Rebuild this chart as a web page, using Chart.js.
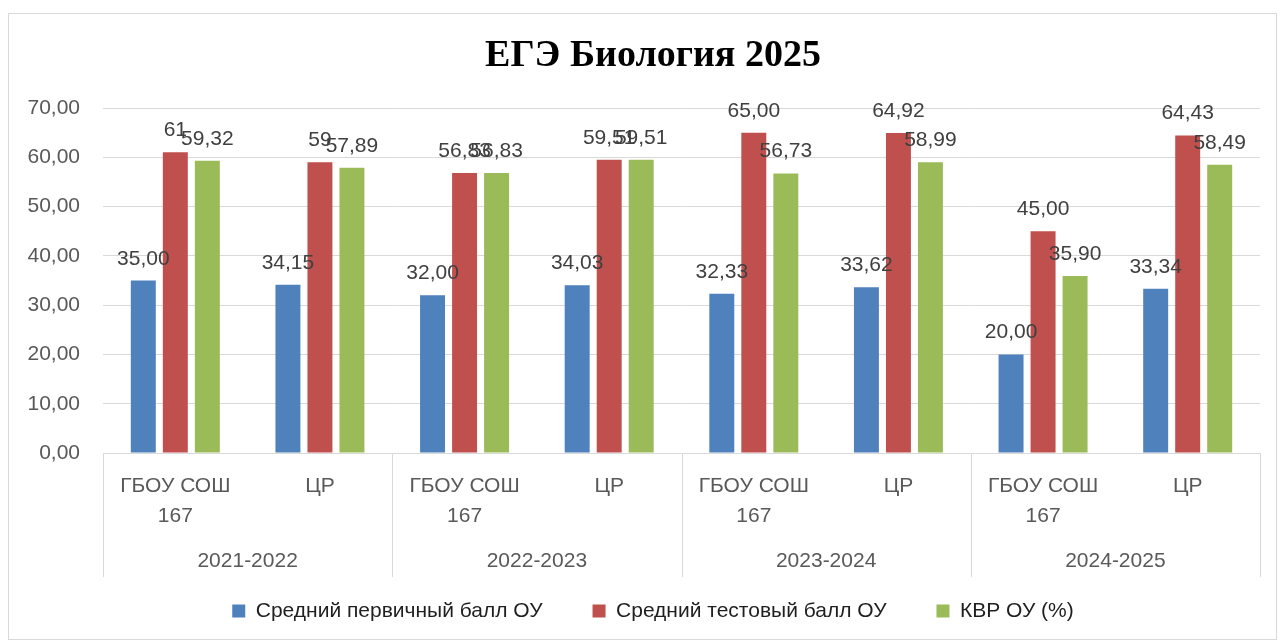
<!DOCTYPE html>
<html>
<head>
<meta charset="utf-8">
<script src="https://cdn.jsdelivr.net/npm/chart.js@4.4.0/dist/chart.umd.min.js"></script>
<style>
html,body{margin:0;padding:0;background:#fff;}
canvas{display:block;}
</style>
</head>
<body>
<canvas id="c" width="1280" height="643"></canvas>
<script>
// ---- data ----
const years = ['2021-2022', '2022-2023', '2023-2024', '2024-2025'];
const schools = [['ГБОУ СОШ', '167'], ['ЦР']];
const seriesNames = ['Средний первичный балл ОУ', 'Средний тестовый балл ОУ', 'КВР ОУ (%)'];
const primaryScore = ['35,00', '34,15', '32,00', '34,03', '32,33', '33,62', '20,00', '33,34'];
const testScore    = ['61', '59', '56,83', '59,51', '65,00', '64,92', '45,00', '64,43'];
const kvrScore     = ['59,32', '57,89', '56,83', '59,51', '56,73', '58,99', '35,90', '58,49'];
const yTicks = [0, 10, 20, 30, 40, 50, 60, 70];
const colors = ['#4F81BD', '#C0504D', '#9BBB59'];

// ---- build ----
const labels = [];
years.forEach(() => schools.forEach(s => labels.push(s)));
const toNum = s => parseFloat(s.replace(',', '.'));
const textSeries = [primaryScore, testScore, kvrScore];

const FONT = "'Liberation Sans', Arial, sans-serif";

const framePlugin = {
  id: 'frame',
  beforeDraw(chart) {
    const ctx = chart.ctx;
    ctx.save();
    ctx.fillStyle = '#fff';
    ctx.fillRect(0, 0, chart.width, chart.height);
    ctx.strokeStyle = '#d9d9d9';
    ctx.lineWidth = 1;
    ctx.strokeRect(8.5, 13.5, 1268, 626);
    ctx.restore();
  }
};

const groupAxisPlugin = {
  id: 'groupAxis',
  afterDraw(chart) {
    const ctx = chart.ctx;
    const x = chart.scales.x;
    const area = chart.chartArea;
    const n = schools.length;
    ctx.save();
    ctx.strokeStyle = '#d9d9d9';
    ctx.lineWidth = 1;
    const bounds = [];
    for (let g = 0; g <= years.length; g++) {
      let bx;
      if (g === 0) bx = area.left;
      else if (g === years.length) bx = area.right;
      else bx = (x.getPixelForValue(g * n - 1) + x.getPixelForValue(g * n)) / 2;
      bounds.push(bx);
      const px = Math.round(bx) + 0.5;
      ctx.beginPath();
      ctx.moveTo(px, area.bottom);
      ctx.lineTo(px, area.bottom + 124);
      ctx.stroke();
    }
    ctx.fillStyle = '#595959';
    ctx.font = '21px ' + FONT;
    ctx.textAlign = 'center';
    ctx.textBaseline = 'middle';
    years.forEach((y, i) => {
      ctx.fillText(y, (bounds[i] + bounds[i + 1]) / 2, area.bottom + 108);
    });
    ctx.restore();
  }
};

const valueLabelPlugin = {
  id: 'valueLabels',
  afterDatasetsDraw(chart) {
    const ctx = chart.ctx;
    ctx.save();
    ctx.fillStyle = '#404040';
    ctx.font = '21px ' + FONT;
    ctx.textAlign = 'center';
    ctx.textBaseline = 'alphabetic';
    chart.data.datasets.forEach((ds, di) => {
      const meta = chart.getDatasetMeta(di);
      meta.data.forEach((el, i) => {
        ctx.fillText(textSeries[di][i], el.x, el.y - 16);
      });
    });
    ctx.restore();
  }
};

new Chart(document.getElementById('c'), {
  type: 'bar',
  data: {
    labels: labels,
    datasets: textSeries.map((s, i) => ({
      label: seriesNames[i],
      data: s.map(toNum),
      backgroundColor: colors[i],
      borderWidth: 0,
      categoryPercentage: 0.664,
      barPercentage: 0.78
    }))
  },
  options: {
    responsive: false,
    animation: false,
    devicePixelRatio: 1,
    layout: { padding: { top: 13, left: 46, right: 20, bottom: 11.5 } },
    plugins: {
      title: {
        display: true,
        text: 'ЕГЭ Биология 2025',
        color: '#000',
        font: { family: "'Liberation Serif', 'Times New Roman', serif", size: 38, weight: 'bold', lineHeight: 1.2 },
        padding: { top: 20, bottom: 29.4 }
      },
      legend: {
        display: true,
        position: 'bottom',
        labels: {
          boxWidth: 13,
          boxHeight: 13,
          padding: 50,
          color: '#1f1f1f',
          font: { family: FONT, size: 21 }
        }
      },
      tooltip: { enabled: false }
    },
    scales: {
      y: {
        min: 0,
        max: 70,
        afterBuildTicks(scale) { scale.ticks = yTicks.map(v => ({ value: v })); },
        afterFit(scale) {
          scale.width = 57;
          scale._computeLabelArea = () => undefined;
        },
        ticks: {
          color: '#595959',
          padding: 23,
          font: { family: FONT, size: 21 },
          callback: v => v.toFixed(2).replace('.', ',')
        },
        grid: { color: '#d9d9d9', lineWidth: 1, drawTicks: false },
        border: { display: false }
      },
      x: {
        afterFit(scale) { scale.height = 97.5; },
        ticks: {
          color: '#595959',
          padding: 18,
          maxRotation: 0,
          autoSkip: false,
          font: { family: FONT, size: 21, lineHeight: 1.43 }
        },
        grid: { display: false, drawTicks: false },
        border: { display: false }
      }
    }
  },
  plugins: [framePlugin, groupAxisPlugin, valueLabelPlugin]
});
</script>
</body>
</html>
